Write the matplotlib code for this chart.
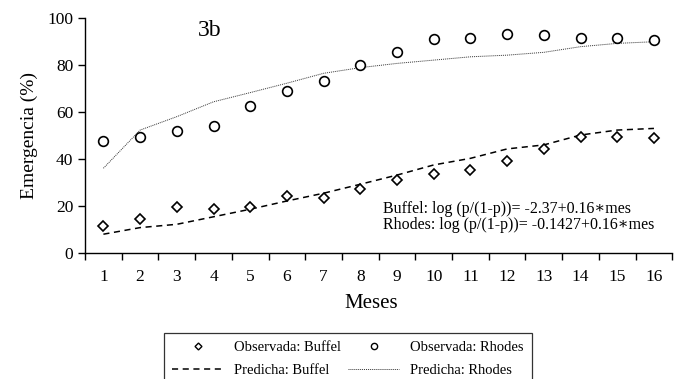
import matplotlib
matplotlib.use("Agg")
import matplotlib.pyplot as plt
from matplotlib.lines import Line2D

plt.rcParams['font.family'] = ['Liberation Serif', 'DejaVu Serif']

meses = list(range(1, 17))
obs_buffel = [11.6, 14.6, 19.7, 18.9, 19.7, 24.2, 23.6, 27.3, 31.3, 33.5, 35.2, 39.2, 44.4, 49.5, 49.5, 49.1]
obs_rhodes = [47.8, 49.5, 51.8, 54.0, 62.7, 69.0, 73.0, 79.9, 85.6, 90.8, 91.3, 93.0, 92.5, 91.3, 91.3, 90.7]
pred_buffel = [8.1, 10.9, 12.3, 15.5, 18.7, 22.2, 25.5, 29.3, 33.2, 37.5, 40.3, 44.3, 46.0, 50.2, 52.3, 53.0]
pred_rhodes = [36.1, 52.3, 58.0, 64.3, 68.2, 72.2, 76.4, 78.8, 80.6, 82.0, 83.4, 84.1, 85.3, 87.7, 89.1, 89.8]
y_ticks = [0, 20, 40, 60, 80, 100]

fig = plt.figure(figsize=(6.75, 3.79), dpi=100)
ax = fig.add_axes([0.126, 0.3317, 0.87, 0.6216])

ax.plot(meses, pred_buffel, color='black', linestyle=(0, (4, 3)), linewidth=1.1)
ax.plot(meses, pred_rhodes, color='#333333', linestyle=(0, (1, 1)), linewidth=0.7)
ax.plot(meses, obs_buffel, linestyle='none', marker='D', markersize=5.5,
        markerfacecolor='white', markeredgecolor='black', markeredgewidth=1.2)
ax.plot(meses, obs_rhodes, linestyle='none', marker='o', markersize=7,
        markerfacecolor='white', markeredgecolor='black', markeredgewidth=1.2)

ax.set_xlim(0.5, 16.5)
ax.set_ylim(0, 100)
ax.set_yticks(y_ticks)
ax.set_xticks([m - 0.5 for m in meses] + [16.5])
ax.set_xticklabels([])
ax.set_xticks(meses, minor=True)
ax.set_xticklabels([str(m) for m in meses], minor=True)
ax.tick_params(axis='x', which='major', direction='out', length=5, width=1)
ax.tick_params(axis='x', which='minor', length=0, pad=11, labelsize=12.5)
ax.tick_params(axis='y', direction='out', length=5, width=1, labelsize=12.5)

for s in ['top', 'right']:
    ax.spines[s].set_visible(False)
for s in ['left', 'bottom']:
    ax.spines[s].set_linewidth(1)

ax.set_xlabel('Meses', fontsize=15)
ax.xaxis.set_label_coords(0.487, -0.172)
ax.set_ylabel('Emergencia (%)', fontsize=14, labelpad=7)

ax.text(0.213, 0.99, '3b', transform=ax.transAxes, fontsize=17, ha='center', va='top')
ax.text(0.508, 0.19, 'Buffel: log (p/(1-p))= -2.37+0.16\u2217mes', transform=ax.transAxes,
        fontsize=11.5, ha='left', va='center')
ax.text(0.508, 0.122, 'Rhodes: log (p/(1-p))= -0.1427+0.16\u2217mes', transform=ax.transAxes,
        fontsize=11.5, ha='left', va='center')

handles = [
    Line2D([], [], linestyle='none', marker='D', markersize=3.5, markerfacecolor='white',
           markeredgecolor='black', markeredgewidth=1),
    Line2D([], [], color='black', linestyle=(0, (4, 3)), linewidth=1.1),
    Line2D([], [], linestyle='none', marker='o', markersize=4.5, markerfacecolor='white',
           markeredgecolor='black', markeredgewidth=1),
    Line2D([], [], color='#333333', linestyle=(0, (1, 1)), linewidth=0.7),
]
labels = ['Observada: Buffel', 'Predicha: Buffel', 'Observada: Rhodes', 'Predicha: Rhodes']
leg = fig.legend(handles, labels, ncol=2, loc='upper left', bbox_to_anchor=(0.243, 0.121),
                 fontsize=10.5, frameon=True, fancybox=False, edgecolor='black',
                 handlelength=3.5, handletextpad=0.75, columnspacing=0.5,
                 labelspacing=0.62, borderpad=0.55, borderaxespad=0)
leg.get_frame().set_linewidth(0.9)

fig.savefig('out.png', dpi=100)
